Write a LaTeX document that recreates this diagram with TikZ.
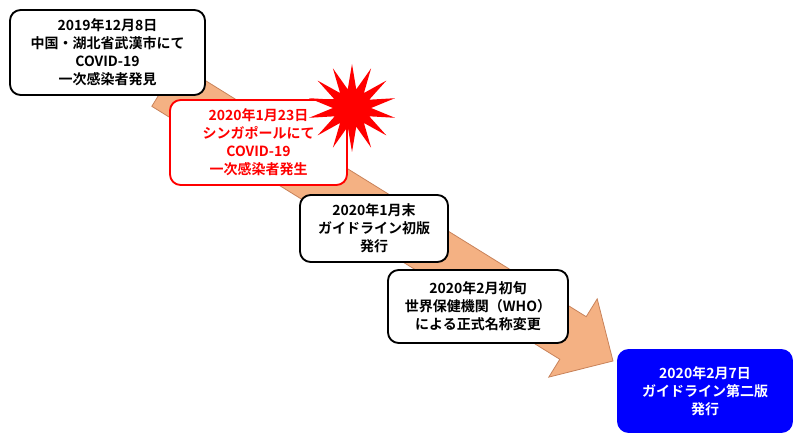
\documentclass[tikz,border=0pt]{standalone}
\usepackage{fontspec}
\setmainfont{Noto Sans CJK JP}[BoldFont={Noto Sans CJK JP Bold}]
\usetikzlibrary{shapes.geometric,shapes.symbols}
\definecolor{arrowfill}{RGB}{244,177,131}
\definecolor{arrowline}{RGB}{200,130,90}
\tikzset{every picture/.style={line width=0.75pt}}
\tikzset{
  event/.style={draw=black, line width=1.4pt, fill=white, rounded corners=8pt, align=center,
    inner sep=0pt, font=\bfseries\fontsize{10.5}{13.5}\selectfont},
}

\begin{document}
\begin{tikzpicture}[x=0.75pt,y=0.75pt,yscale=-1,xscale=1]
	\useasboundingbox (0,0) rectangle (800,442);
	
	%Shape: Arrow
	\draw [fill=arrowfill, draw=arrowline, line width=0.6pt] (178.2,63.7) -- (586.2,316.7) -- (597.2,298.9) -- (613,361) -- (548.8,377.1) -- (559.8,359.3) -- (151.8,106.3) -- cycle ;
	
	%Shape: Rectangle
	\node [event, minimum width=146.25pt, minimum height=63.75pt] (dec) at (107.5,52.5) {2019年12月8日\\中国・湖北省武漢市にて\\COVID-19\\一次感染者発見};
	%Shape: Rectangle
	\node [event, draw=red, text=red, minimum width=132.75pt, minimum height=63.75pt] (sgp) at (258.5,142.5) {2020年1月23日\\シンガポールにて\\COVID-19\\一次感染者発生};
	%Shape: Star
	\node [star, star points=14, star point ratio=2.3, fill=red, minimum size=66pt, inner sep=0pt] (burst) at (352,108) {};
	%Shape: Rectangle
	\node [event, minimum width=111pt, minimum height=50.25pt] (first) at (374,228.5) {2020年1月末\\ガイドライン初版\\発行};
	%Shape: Rectangle
	\node [event, minimum width=135pt, minimum height=54.75pt] (who) at (478,306.5) {2020年2月初旬\\世界保健機関（WHO）\\による正式名称変更};
	%Shape: Rectangle
	\node [event, draw=blue, fill=blue, text=white, minimum width=130.5pt, minimum height=61.5pt] (second) at (705,391) {2020年2月7日\\ガイドライン第二版\\発行};
	
\end{tikzpicture}
\end{document}
